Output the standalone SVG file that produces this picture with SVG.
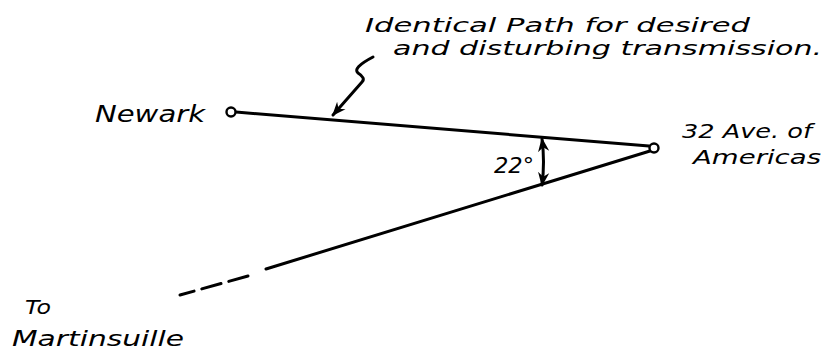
<svg xmlns="http://www.w3.org/2000/svg" width="826" height="353" viewBox="0 0 826 353">
<style>
.t{font-family:"DejaVu Sans","Liberation Sans",sans-serif;font-style:italic;fill:#000}
.ln{stroke:#000;stroke-width:3;fill:none;stroke-linecap:round}
.nd{stroke:#000;stroke-width:2.4;fill:#fff}
</style>
<defs>
<marker id="ah2" viewBox="0 0 10 10" refX="9" refY="5" markerWidth="14" markerHeight="14" orient="auto-start-reverse" markerUnits="userSpaceOnUse">
<path d="M0,1 L10,5 L0,9 L3,5 Z" fill="#000"/>
</marker>
</defs>
<g id="connectors">
<line class="ln" x1="236" y1="112" x2="649" y2="146"/>
<line class="ln" x1="650" y1="151" x2="266" y2="269"/>
<line class="ln" x1="248" y1="276" x2="180" y2="295" stroke-dasharray="20,8"/>
<path class="ln" d="M542,139 Q545,162 542,185" stroke-width="2" marker-start="url(#ah2)" marker-end="url(#ah2)"/>
<path class="ln" d="M373,57 Q352,68 358,73 Q366,78 362,82 L333,115" stroke-width="2" marker-end="url(#ah2)"/>
</g>
<g id="newark">
<circle class="nd" cx="231" cy="112" r="4.5"/>
<text class="t" x="95" y="122" font-size="23" textLength="110" lengthAdjust="spacingAndGlyphs">Newark</text>
</g>
<g id="ave-of-americas">
<circle class="nd" cx="654" cy="148" r="4.5"/>
<text class="t" x="682" y="138" font-size="19" textLength="130" lengthAdjust="spacingAndGlyphs">32 Ave. of</text>
<text class="t" x="693" y="164" font-size="19" textLength="128" lengthAdjust="spacingAndGlyphs">Americas</text>
</g>
<g id="martinsville">
<text class="t" x="25" y="314" font-size="20" textLength="26" lengthAdjust="spacingAndGlyphs">To</text>
<text class="t" x="12" y="346" font-size="22" textLength="172" lengthAdjust="spacingAndGlyphs">Martinsuille</text>
</g>
<g id="path-label">
<text class="t" x="365" y="32" font-size="19" textLength="385" lengthAdjust="spacingAndGlyphs">Identical Path for desired</text>
<text class="t" x="393" y="55" font-size="19" textLength="429" lengthAdjust="spacingAndGlyphs">and disturbing transmission.</text>
</g>
<g id="angle">
<text class="t" x="494" y="173" font-size="21" textLength="40" lengthAdjust="spacingAndGlyphs">22°</text>
</g>
</svg>
